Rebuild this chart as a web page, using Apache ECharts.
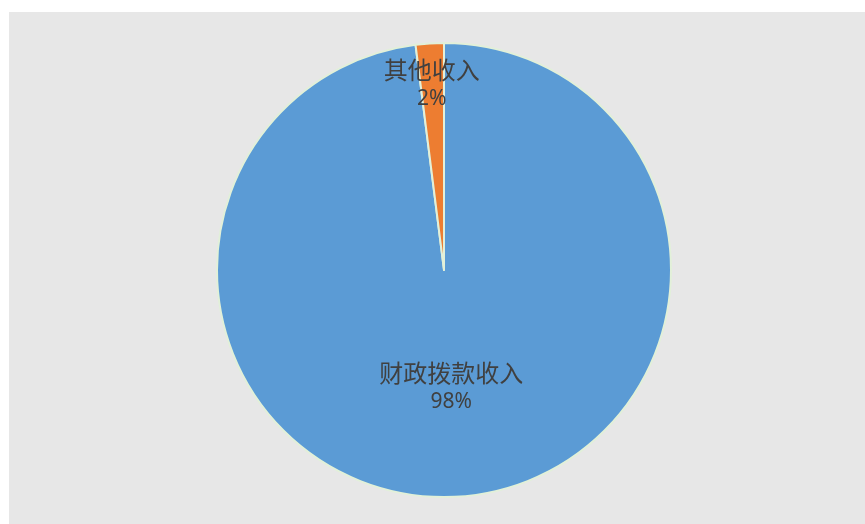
<!DOCTYPE html>
<html>
<head>
<meta charset="utf-8">
<script src="https://cdn.jsdelivr.net/npm/echarts@6/dist/echarts.min.js"></script>
<style>html,body{margin:0;padding:0;background:#fff;}#c{width:865px;height:524px;}</style>
</head>
<body>
<div id="c"></div>
<script>
var categories = ['财政拨款收入', '其他收入'];
var values = [98, 2];
var colors = ['#5B9BD5', '#ED7D31'];

var chart = echarts.init(document.getElementById('c'));
chart.setOption({
  backgroundColor: '#ffffff',
  animation: false,
  graphic: [{
    type: 'rect', left: 9, top: 12, z: -10,
    shape: { width: 856, height: 512 },
    style: { fill: '#e7e7e7' }
  }],
  series: [{
    type: 'pie',
    center: [444, 270],
    radius: [0, 227],
    startAngle: 90,
    clockwise: true,
    data: categories.map(function (c, i) {
      return { name: c, value: values[i], itemStyle: { color: colors[i] } };
    }),
    itemStyle: { borderColor: '#E2F0D9', borderWidth: 2 },
    label: {
      show: true,
      position: 'inside',
      formatter: '{b}\n{d|{d}%}',
      color: '#404040',
      fontFamily: 'Noto Sans CJK SC',
      fontSize: 24,
      lineHeight: 30,
      rich: { d: { fontSize: 21, lineHeight: 28, color: '#404040', fontFamily: 'Noto Sans' } }
    },
    labelLine: { show: false },
    labelLayout: function (p) {
      if (p.dataIndex === 1) return { dx: -5, dy: -70 };
      return { dy: 1 };
    }
  }]
});
</script>
</body>
</html>
